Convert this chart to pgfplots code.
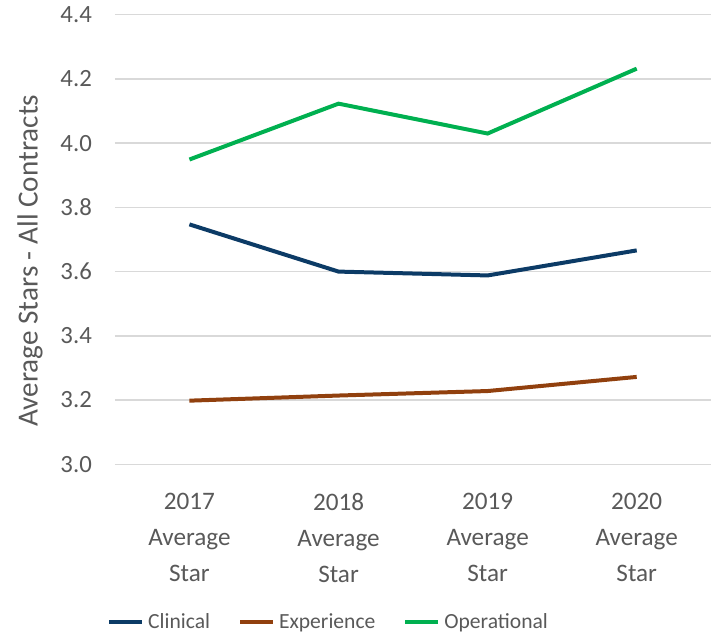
\documentclass[border=0pt]{standalone}
\usepackage{pgfplots}
\pgfplotsset{compat=1.18}
\usepackage{fontspec}
\setmainfont{Carlito}
\usetikzlibrary{calc}
\definecolor{clin}{RGB}{12,59,102}
\definecolor{expc}{RGB}{145,64,14}
\definecolor{oper}{RGB}{0,176,80}
\definecolor{txt}{RGB}{89,89,89}
\definecolor{grd}{RGB}{217,217,217}
\begin{document}
\begin{tikzpicture}
\begin{axis}[
  name=ax,
  scale only axis,
  width=298.5pt, height=225pt,
  xmin=0, xmax=4,
  ymin=3.0, ymax=4.4,
  ytick={3.0,3.2,...,4.4},
  axis line style={draw=none},
  tick style={draw=none},
  ymajorgrids,
  grid style={grd, line width=0.75pt},
  major tick length=0pt,
  xtick={0.5,1.5,2.5,3.5},
  xticklabels={{2017\\Average\\Star},{2018\\Average\\Star},{2019\\Average\\Star},{2020\\Average\\Star}},
  xticklabel style={align=center, font=\fontsize{12.6}{18}\selectfont, text=txt, yshift=-11pt},
  yticklabel style={font=\fontsize{12.4}{14}\selectfont, text=txt, xshift=-8pt, /pgf/number format/fixed, /pgf/number format/fixed zerofill, /pgf/number format/precision=1},
  /pgf/number format/assume math mode=true,
  ylabel={Average Stars - All Contracts},
  ylabel style={font=\fontsize{14.6}{17}\selectfont, text=txt, at={(axis description cs:-0.1425,0.453)}, anchor=center},
  legend style={at={(axis description cs:0.36,0)}, anchor=center, yshift=-79pt, draw=none, fill=none,
    legend columns=-1, font=\fontsize{10.8}{13}\selectfont, text=txt,
    /tikz/every even column/.append style={column sep=12pt}},
  legend image code/.code={\draw[#1] (0pt,0pt) -- (16.5pt,0pt);},
  legend cell align=left,
]
\addplot[clin, line width=2pt] coordinates {(0.5,3.747) (1.5,3.600) (2.5,3.588) (3.5,3.666)};
\addlegendentry{Clinical}
\addplot[expc, line width=2pt] coordinates {(0.5,3.198) (1.5,3.214) (2.5,3.228) (3.5,3.272)};
\addlegendentry{Experience}
\addplot[oper, line width=2pt] coordinates {(0.5,3.949) (1.5,4.123) (2.5,4.030) (3.5,4.232)};
\addlegendentry{Operational}
\end{axis}
\useasboundingbox ($(ax.south west)+(-57.5pt,-85pt)$) rectangle ($(ax.north east)+(0pt,7pt)$);
\end{tikzpicture}
\end{document}
